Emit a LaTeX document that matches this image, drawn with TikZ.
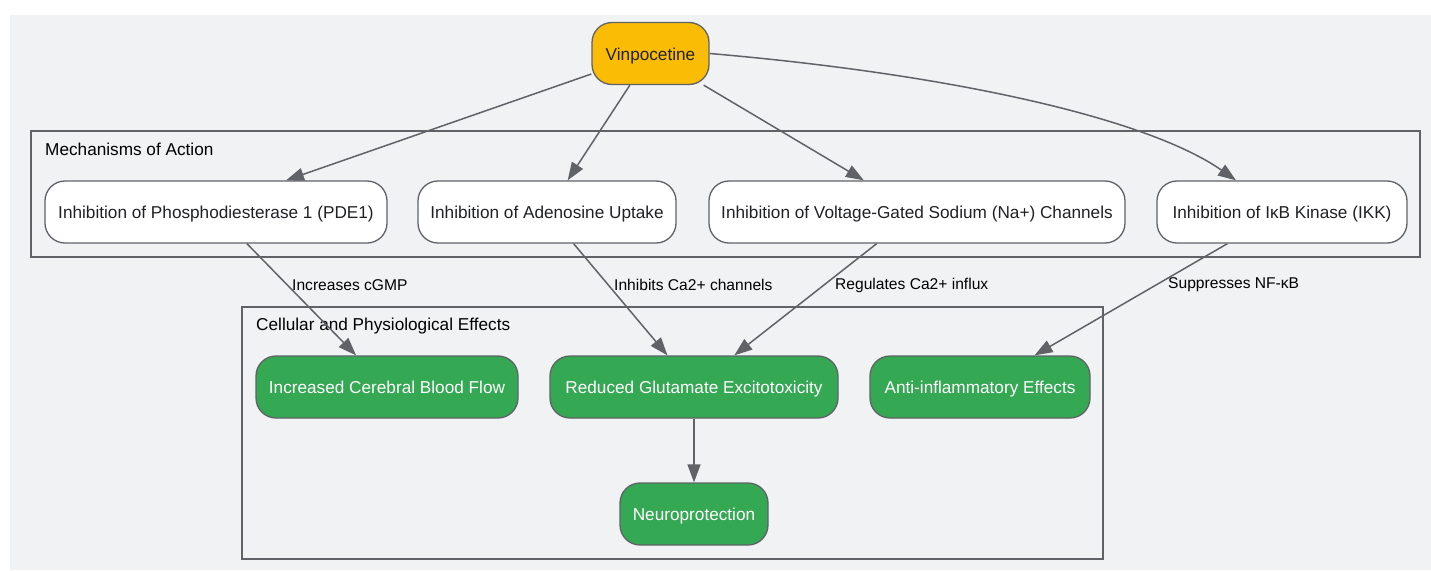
\documentclass[tikz,border=0pt]{standalone}
\usepackage{fontspec}
\setmainfont{Liberation Sans}
\usepackage{tikz}
\usetikzlibrary{arrows.meta}

\definecolor{pagegray}{HTML}{F1F2F4}
\definecolor{linegray}{HTML}{5F6368}
\definecolor{drugamber}{HTML}{FBBC05}
\definecolor{effectgreen}{HTML}{34A853}
\definecolor{textdark}{HTML}{202124}

\tikzset{
    box/.style={draw=linegray, line width=1.3pt, rounded corners=20pt,
        minimum height=62pt, inner xsep=12pt, text=textdark,
        text height=16pt, text depth=3pt,
        font=\fontsize{17.2}{20}\selectfont},
    drug/.style={box, fill=drugamber},
    mech/.style={box, fill=white},
    effect/.style={box, fill=effectgreen, text=white},
    cluster/.style={draw=linegray, line width=1.3pt, inner sep=0pt},
    clusterlabel/.style={anchor=west, inner sep=0pt, text=black,
        font=\fontsize{17.2}{20}\selectfont},
    edgelabel/.style={anchor=west, inner sep=0pt, text=black,
        font=\fontsize{15.6}{18}\selectfont},
    link/.style={draw=linegray, line width=1.5pt,
        -{Triangle[length=18pt,width=13pt,fill=linegray]}}
}

\begin{document}
\begin{tikzpicture}[x=1pt, y=-1pt]
\useasboundingbox (0,0) rectangle (1431,570);
\fill[pagegray] (10,15) rectangle (1431,570);

% clusters
\node (M) [cluster, minimum width=1389pt, minimum height=126pt] at (725.5,194) {};
\node (Ml) [clusterlabel] at (45,149.5) {Mechanisms of Action};
\node (E) [cluster, minimum width=861pt, minimum height=252pt] at (672.5,433) {};
\node (El) [clusterlabel] at (256,326) {Cellular and Physiological Effects};

% nodes
\node (V) [drug, minimum width=117pt] at (650.5,53.5) {Vinpocetine};

\node (P) [mech, minimum width=342pt] at (216,212) {Inhibition of Phosphodiesterase 1 (PDE1)};
\node (A) [mech, minimum width=258pt] at (547,212) {Inhibition of Adenosine Uptake};
\node (S) [mech, minimum width=416pt] at (917,212) {Inhibition of Voltage-Gated Sodium (Na+) Channels};
\node (K) [mech, minimum width=250pt] at (1282,212) {Inhibition of IκB Kinase (IKK)};

\node (C) [effect, minimum width=262pt] at (387,387) {Increased Cerebral Blood Flow};
\node (G) [effect, minimum width=288pt] at (694,387) {Reduced Glutamate Excitotoxicity};
\node (I) [effect, minimum width=220pt] at (980,387) {Anti-inflammatory Effects};
\node (N) [effect, minimum width=148pt] at (694,514) {Neuroprotection};

% edges
\draw [link] (V) -- ([xshift=70pt]P.north);
\path (V) edge [link] (A);
\path (V) edge [link] (S);
\draw [link] (V.east) .. controls (960,75) and (1150,120) .. ([xshift=-46pt]K.north);

\path (P) edge [link] (C);
\path (A) edge [link] (G);
\path (S) edge [link] (G);
\path (K) edge [link] (I);
\path (G) edge [link] (N);

\node (l1) [edgelabel] at (292,285) {Increases cGMP};
\node (l2) [edgelabel] at (614,285) {Inhibits Ca2+ channels};
\node (l3) [edgelabel] at (835,285) {Regulates Ca2+ influx};
\node (l4) [edgelabel] at (1168,285) {Suppresses NF-κB};
\end{tikzpicture}
\end{document}
